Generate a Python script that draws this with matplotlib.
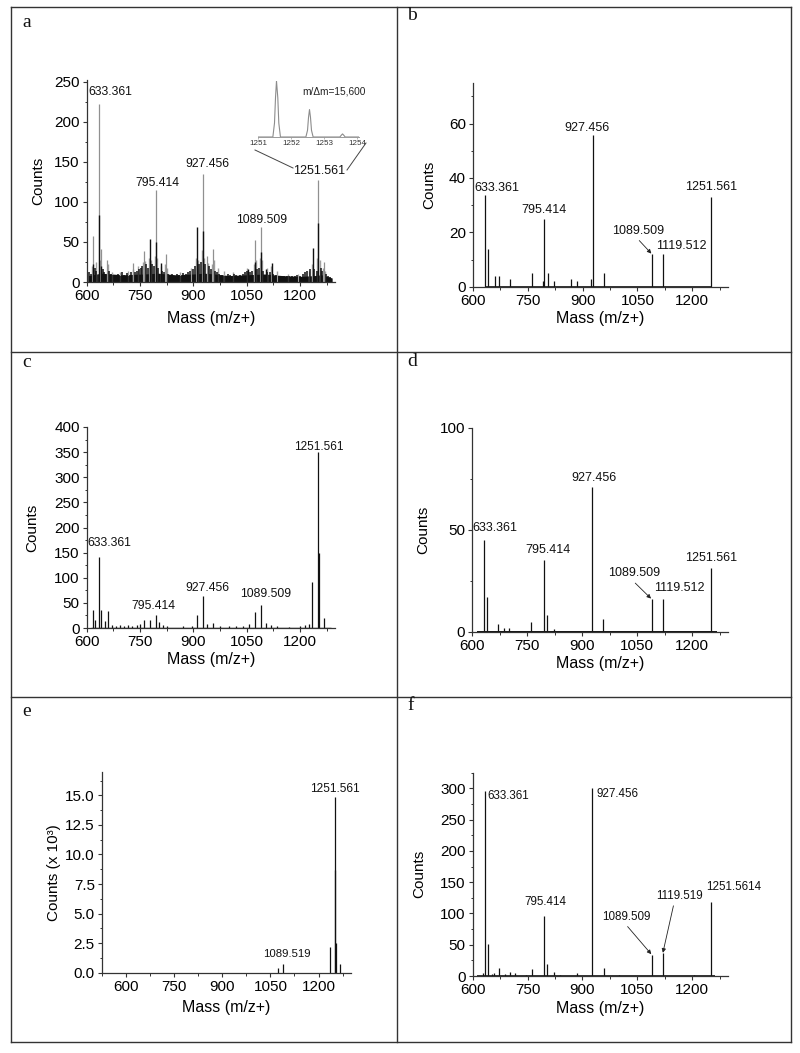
import matplotlib
matplotlib.use("Agg")
import matplotlib.pyplot as plt
from matplotlib.lines import Line2D
from matplotlib.ticker import MultipleLocator

plt.rcParams['font.family'] = ['Liberation Sans', 'DejaVu Sans']

# ---------------- data ----------------
# panel a: two overlaid spectra (grey and black)
a_grey_mz = [617, 633.361, 641, 656, 729, 761, 795.414, 823, 927.456, 937, 956, 1073, 1089.509, 1251.561, 1267]
a_grey_counts = [58, 222, 41, 27, 24, 39, 115, 35, 135, 33, 41, 53, 68, 127, 25]
a_black_mz = [617, 633.361, 641, 778, 795.414, 808, 911, 927.456, 1054, 1073, 1089.509, 1103, 1120, 1235, 1251.561]
a_black_counts = [22, 84, 20, 54, 50, 24, 68, 64, 16, 25, 37, 16, 24, 42, 74]
a_grass_mz = [607, 612, 622, 627, 645, 650, 662, 667, 675, 681, 688, 694, 700, 706, 712, 718, 724, 735,
              741, 747, 752, 756, 766, 771, 783, 789, 801, 812, 818, 829, 835, 841, 848, 854, 860, 866,
              872, 878, 884, 890, 900, 905, 916, 921, 932, 943, 950, 961, 967, 973, 979, 990, 996, 1002,
              1008, 1014, 1020, 1026, 1032, 1038, 1044, 1050, 1060, 1066, 1078, 1084, 1095, 1108, 1115,
              1125, 1131, 1140, 1148, 1155, 1162, 1170, 1178, 1185, 1192, 1200, 1207, 1214, 1220, 1228,
              1240, 1246, 1258, 1262, 1272, 1278, 1284]
a_grass_counts = [12, 10, 18, 14, 16, 12, 14, 10, 9, 8, 10, 8, 12, 9, 11, 8, 13, 12,
                  14, 16, 18, 20, 22, 18, 22, 20, 18, 14, 12, 10, 9, 10, 8, 10, 9, 8,
                  11, 10, 12, 14, 16, 20, 22, 25, 22, 20, 16, 14, 12, 10, 9, 8, 10, 9,
                  8, 10, 9, 8, 9, 10, 12, 14, 12, 14, 16, 18, 14, 12, 12,
                  10, 9, 8, 8, 7, 8, 7, 8, 8, 9, 8, 10, 12, 14, 16,
                  16, 14, 18, 14, 10, 8, 6]
a_grey_grass_mz = [615, 625, 637, 660, 670, 693, 716, 730, 745, 757, 764, 775, 781, 792, 798, 810, 820,
                   826, 862, 893, 908, 914, 924, 930, 940, 953, 959, 970, 985, 1010, 1052, 1070, 1076,
                   1086, 1092, 1106, 1118, 1135, 1165, 1195, 1225, 1232, 1248, 1255, 1265, 1270]
a_grey_grass_counts = [20, 25, 28, 22, 12, 12, 14, 16, 20, 25, 26, 30, 28, 32, 30, 20, 22,
                       18, 12, 18, 30, 28, 40, 30, 24, 22, 28, 18, 14, 12, 18, 22, 28,
                       30, 28, 18, 20, 14, 10, 10, 14, 22, 30, 28, 18, 14]
a_base_mz = [605, 640, 700, 760, 800, 850, 900, 930, 960, 1000, 1050, 1100, 1150, 1200, 1240, 1260, 1290]
a_base_counts = [8, 11, 9, 10, 11, 9, 10, 11, 10, 8, 9, 10, 8, 7, 8, 9, 5]
# inset of panel a (relative intensity of the isotope cluster)
inset_mz = [1251.0, 1251.45, 1251.5, 1251.53, 1251.56, 1251.6, 1251.63, 1251.68,
            1252.45, 1252.5, 1252.53, 1252.56, 1252.59, 1252.62, 1252.67,
            1253.48, 1253.52, 1253.56, 1253.6, 1253.64, 1254.05]
inset_int = [0, 0, 25, 70, 100, 70, 25, 0,
             0, 12, 35, 49, 35, 12, 0,
             0, 3, 5.5, 3, 0, 0]

b_mz = [633.361, 641, 659, 671, 701, 762, 792, 795.414, 804, 823, 868, 886, 924, 927.456, 958,
        1089.509, 1119.512, 1251.561]
b_counts = [33.7, 14, 4, 4, 3, 5, 2, 25, 5, 2, 3, 2, 3, 55.7, 5, 12, 12, 32.8]

c_mz = [617, 622, 633.361, 640, 652, 659, 671, 683, 695, 705, 716, 728, 740, 750, 761, 778, 795.414,
        803, 815, 825, 870, 895, 909, 927.456, 939, 956, 975, 1000, 1020, 1040, 1057, 1073, 1089.509,
        1103, 1117, 1135, 1170, 1200, 1215, 1225, 1234, 1251.561, 1252.56, 1266]
c_counts = [36, 15, 142, 36, 13, 34, 5, 4, 6, 4, 5, 4, 5, 7, 15, 15, 26,
            11, 5, 4, 3, 4, 25, 64, 7, 9, 3, 3, 3, 4, 7, 32, 46,
            9, 6, 3, 2, 3, 5, 7, 92, 351, 149, 19]

d_mz = [633.361, 641, 671, 688, 701, 762, 795.414, 804, 823, 927.456, 958, 1089.509, 1119.512, 1251.561]
d_counts = [45, 17, 4, 2, 2, 5, 35, 8, 1.5, 71, 6, 16, 16, 31]

e_mz = [1073, 1089.519, 1235, 1251.561, 1252.56, 1253.56, 1268]
e_counts = [0.37, 0.74, 2.15, 14.9, 8.7, 2.5, 0.74]  # x 10^3

f_mz = [627, 633.361, 641, 652, 659, 671, 687, 701, 715, 745, 763, 795.414, 804, 822, 840, 885,
        927.456, 958, 1000, 1089.509, 1119.519, 1204, 1251.5614]
f_counts = [4, 296, 51, 3, 5, 12, 3, 7, 4, 2, 11, 96.5, 19, 7, 2, 5, 300, 13, 2, 34, 36, 1.5, 119]

mass_ticks = [600, 750, 900, 1050, 1200]

# ---------------- layout helpers ----------------
W, H = 800, 1053
fig = plt.figure(figsize=(W / 100, H / 100), dpi=100)
PT = 0.72  # pixels -> points


def rect(l, r, t, b):
    return [l / W, 1 - b / H, (r - l) / W, (b - t) / H]


def line_px(x0, y0, x1, y1, color='#333333', lw=1.0):
    fig.add_artist(Line2D([x0 / W, x1 / W], [1 - y0 / H, 1 - y1 / H],
                          transform=fig.transFigure, color=color, lw=lw))


def make_axes(box, xlim, ylim, ymajor, yminor, ylab='Counts', ylab_x=None, xlab_y=None):
    l, r, t, b = box
    ax = fig.add_axes(rect(l, r, t, b))
    ax.set_xlim(*xlim)
    ax.set_ylim(*ylim)
    for s in ['top', 'right']:
        ax.spines[s].set_visible(False)
    for s in ['left', 'bottom']:
        ax.spines[s].set_color('#333333')
        ax.spines[s].set_linewidth(0.9)
    ax.set_xticks(mass_ticks)
    ax.xaxis.set_minor_locator(MultipleLocator(75))
    ax.yaxis.set_major_locator(MultipleLocator(ymajor))
    ax.yaxis.set_minor_locator(MultipleLocator(yminor))
    ax.tick_params(which='major', direction='out', length=3.2, width=0.8, pad=1.8,
                   labelsize=11, color='#333333')
    ax.tick_params(which='minor', direction='out', length=1.8, width=0.7, color='#333333')
    ax.set_ylabel(ylab, fontsize=11)
    ax.set_xlabel('Mass (m/z+)', fontsize=11.5)
    ax.yaxis.set_label_coords((ylab_x - l) / (r - l), 0.5)
    ax.xaxis.set_label_coords(0.5, (b - xlab_y) / (b - t))
    return ax


def peaks(ax, mz, counts, color='#111111', lw=0.9):
    ax.vlines(mz, 0, counts, color=color, lw=lw)


def label(ax, txt, x, y, dx, dy, size, ha='center', va='center'):
    ax.annotate(txt, (x, y), xytext=(dx * PT, dy * PT), textcoords='offset points',
                ha=ha, va=va, fontsize=size, color='#111111')


def arrow_label(ax, txt, x, y, dx, dy, size, relpos=(0.45, 0.0)):
    ax.annotate(txt, (x, y), xytext=(dx * PT, dy * PT), textcoords='offset points',
                ha='center', va='center', fontsize=size, color='#111111',
                arrowprops=dict(arrowstyle='-|>', color='#222222', lw=0.6,
                                mutation_scale=6, shrinkA=1, shrinkB=0.5, relpos=relpos))


# ---------------- table frame ----------------
line_px(11, 7, 791, 7)
line_px(11, 1042, 791, 1042)
line_px(11, 7, 11, 1042)
line_px(791, 7, 791, 1042)
line_px(397, 7, 397, 1042)
line_px(11, 352, 791, 352)
line_px(11, 697, 791, 697)

letters = [('a', 22, 27), ('b', 407, 20), ('c', 22, 367), ('d', 407, 366), ('e', 22, 716), ('f', 407, 710)]
for s, x, y in letters:
    fig.text(x / W, 1 - y / H, s, fontsize=14, family=['Liberation Serif', 'DejaVu Serif'],
             ha='left', va='baseline', color='#111111')

# ---------------- panel a ----------------
ax = make_axes((86.7, 335, 80, 282), (600, 1298), (0, 252), 50, 25, ylab_x=45, xlab_y=311)
peaks(ax, a_grey_grass_mz, a_grey_grass_counts, color='#a0a0a0', lw=1.0)
peaks(ax, a_grey_mz, a_grey_counts, color='#909090', lw=0.9)
ax.fill_between(a_base_mz, 0, a_base_counts, color='#111111', lw=0)
peaks(ax, a_grass_mz, a_grass_counts, color='#111111', lw=1.1)
peaks(ax, a_black_mz, a_black_counts, color='#111111', lw=1.0)
label(ax, '633.361', 633.361, 222, 11.4, 12.3, 8.8)
label(ax, '795.414', 795.414, 115, 1, 7, 8.8)
label(ax, '927.456', 927.456, 135, 3.7, 9.4, 8.8)
label(ax, '1089.509', 1089.509, 68, 0.8, 7.8, 8.8)
label(ax, '1251.561', 1251.561, 127, 0.7, 9, 9)

ins = fig.add_axes(rect(258, 358.7, 81, 137))
ins.plot(inset_mz, inset_int, color='#8c8c8c', lw=0.8)
ins.set_xlim(1251, 1254.05)
ins.set_ylim(0, 100)
ins.patch.set_alpha(0)
for s in ['top', 'right', 'left']:
    ins.spines[s].set_visible(False)
ins.spines['bottom'].set_color('#999999')
ins.spines['bottom'].set_linewidth(0.7)
ins.set_yticks([])
ins.set_xticks([1251, 1252, 1253, 1254])
ins.tick_params(axis='x', length=1.5, width=0.5, pad=1, labelsize=5.8, color='#999999', labelcolor='#333333')
fig.text(334 / W, 1 - 92 / H, 'm/\u0394m=15,600', fontsize=7.3, ha='center', va='center', color='#222222')
line_px(255, 150, 293, 168, color='#444444', lw=0.7)
line_px(366, 143, 347, 170, color='#444444', lw=0.7)

# ---------------- panel b ----------------
ax = make_axes((473, 728, 82.7, 286.7), (600, 1298), (0, 75), 20, 10, ylab_x=436, xlab_y=311)
ax.hlines(0, b_mz[0], b_mz[-1], color='#111111', lw=1.2)
peaks(ax, b_mz, b_counts)
label(ax, '633.361', 633.361, 33.7, 12, 6.7, 9)
label(ax, '795.414', 795.414, 25, 0, 8.7, 9)
label(ax, '927.456', 927.456, 55.7, -5.3, 7, 9)
arrow_label(ax, '1089.509', 1089.509, 12, -13.5, 23.3, 9)
label(ax, '1119.512', 1119.512, 12, 19, 8.5, 9)
label(ax, '1251.561', 1251.561, 32.8, 0, 10, 9)

# ---------------- panel c ----------------
ax = make_axes((86.7, 335, 427, 628), (600, 1298), (0, 400), 50, 25, ylab_x=39, xlab_y=652)
ax.hlines(0, 612, 1288, color='#111111', lw=1.0)
peaks(ax, c_mz, c_counts)
label(ax, '633.361', 633.361, 142, 10.7, 13.3, 8.8)
label(ax, '795.414', 795.414, 26, -2.3, 9, 8.8)
label(ax, '927.456', 927.456, 64, 3.7, 8, 8.8)
label(ax, '1089.509', 1089.509, 46, 5, 10.7, 8.8)
label(ax, '1251.561', 1251.561, 351, 0, 5, 8.5)

# ---------------- panel d ----------------
ax = make_axes((472, 728, 427.7, 631.7), (600, 1298), (0, 100), 50, 25, ylab_x=430, xlab_y=656)
ax.hlines(0, 613, 1268, color='#111111', lw=1.4)
peaks(ax, d_mz, d_counts)
label(ax, '633.361', 633.361, 45, 10.8, 12.2, 9)
label(ax, '795.414', 795.414, 35, 4, 10.3, 9)
label(ax, '927.456', 927.456, 71, 1.7, 8.6, 9)
arrow_label(ax, '1089.509', 1089.509, 16, -17.5, 25.7, 9)
label(ax, '1119.512', 1119.512, 16, 16.5, 11, 9)
label(ax, '1251.561', 1251.561, 31, 0, 10, 9)

# ---------------- panel e ----------------
ax = make_axes((101.7, 350.7, 771.7, 972.7), (525, 1300), (0, 17), 2.5, 1.25,
               ylab='Counts (x 10\u00b3)', ylab_x=61, xlab_y=1000)
ax.yaxis.set_major_formatter(matplotlib.ticker.FormatStrFormatter('%.1f'))
peaks(ax, e_mz, e_counts)
label(ax, '1251.561', 1251.561, 14.9, 0, 7.3, 8.6)
label(ax, '1089.519', 1089.519, 0.74, 3.6, 9.7, 8.2)

# ---------------- panel f ----------------
ax = make_axes((472.7, 728, 772.7, 976), (600, 1298), (0, 325), 50, 25, ylab_x=426, xlab_y=1001)
ax.hlines(0, 612, 1262, color='#111111', lw=1.2)
peaks(ax, f_mz, f_counts)
label(ax, '633.361', 633.361, 296, 2.4, -5.2, 8.4, ha='left')
label(ax, '927.456', 927.456, 300, 4.1, -6, 8.4, ha='left')
label(ax, '795.414', 795.414, 96.5, 1.5, 13.6, 8.4)
arrow_label(ax, '1089.509', 1089.509, 34, -25, 38, 8.4)
arrow_label(ax, '1119.519', 1119.519, 36, 16.3, 57.8, 8.4, relpos=(0.4, 0.0))
label(ax, '1251.5614', 1251.5614, 119, 23, 15, 8.4)

fig.savefig('out.png', dpi=100, facecolor='white')
